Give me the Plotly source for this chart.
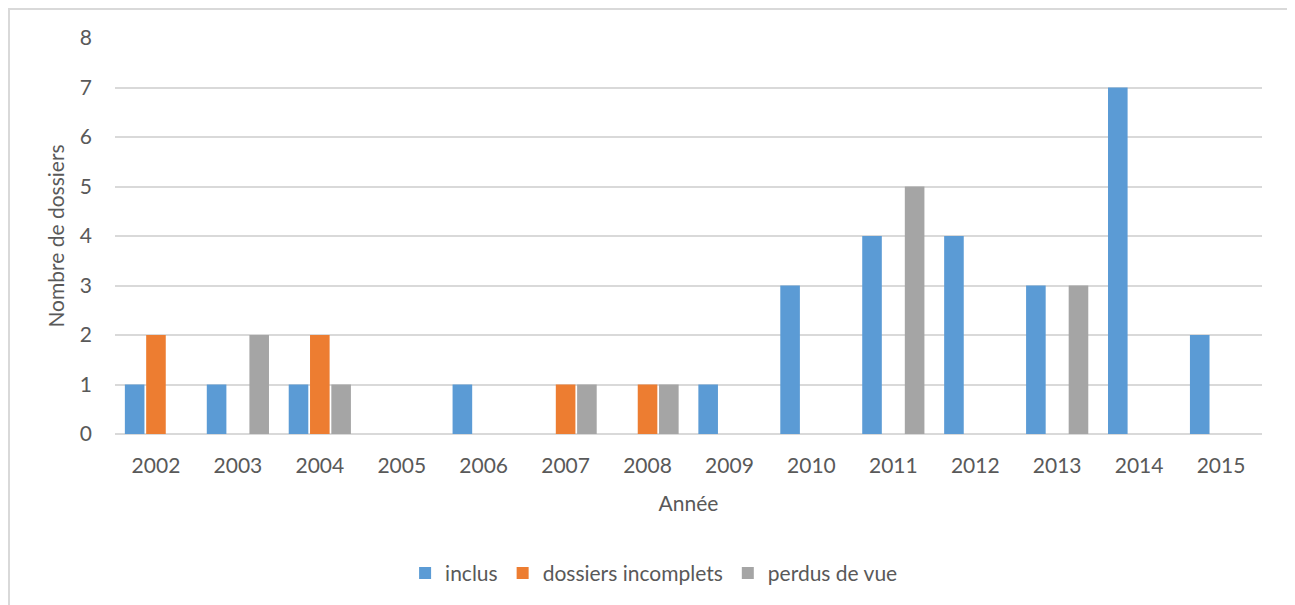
import plotly.graph_objects as go

annees = ["2002", "2003", "2004", "2005", "2006", "2007", "2008",
          "2009", "2010", "2011", "2012", "2013", "2014", "2015"]
inclus = [1, 1, 1, 0, 1, 0, 0, 1, 3, 4, 4, 3, 7, 2]
incomplets = [2, 0, 2, 0, 0, 1, 1, 0, 0, 0, 0, 0, 0, 0]
perdus = [0, 2, 1, 0, 0, 1, 1, 0, 0, 5, 0, 3, 0, 0]

font = dict(family="Lato, 'Open Sans', sans-serif", size=21, color="#595959")

fig = go.Figure()
fig.add_trace(go.Bar(x=annees, y=inclus, name="inclus", marker_color="#5B9BD5"))
fig.add_trace(go.Bar(x=annees, y=incomplets, name="dossiers incomplets", marker_color="#ED7D31"))
fig.add_trace(go.Bar(x=annees, y=perdus, name="perdus de vue", marker_color="#A5A5A5"))

fig.update_traces(marker_line_width=0)

# outer chart border (Excel style)
fig.add_shape(type="rect", xref="paper", yref="paper",
              x0=-0.0924, x1=1.0253, y0=-0.45, y1=1.0732,
              line=dict(color="#D9D9D9", width=2), fillcolor="rgba(0,0,0,0)",
              layer="below")

fig.update_layout(
    width=1295, height=605,
    margin=dict(l=107, r=41, t=30, b=179),
    paper_bgcolor="white", plot_bgcolor="white",
    font=font,
    barmode="group", bargap=0.22, bargroupgap=0.08,
    xaxis=dict(
        title=dict(text="Année", font=font, standoff=20),
        showgrid=False, showline=False, ticks="", zeroline=False,
        tickfont=font, ticklabelstandoff=17,
    ),
    yaxis=dict(
        title=dict(text="Nombre de dossiers", font=font, standoff=9),
        range=[0, 8], dtick=1, showgrid=True, gridcolor="#D9D9D9", gridwidth=1.5,
        zeroline=True, zerolinecolor="#D9D9D9", zerolinewidth=2,
        showline=False, ticks="", tickfont=font, ticklabelstandoff=22,
    ),
    legend=dict(orientation="h", x=0.47, xanchor="center", y=-0.30, yanchor="top",
                font=font, itemwidth=30, traceorder="normal"),
    showlegend=True,
)

fig.write_html("out.html")
